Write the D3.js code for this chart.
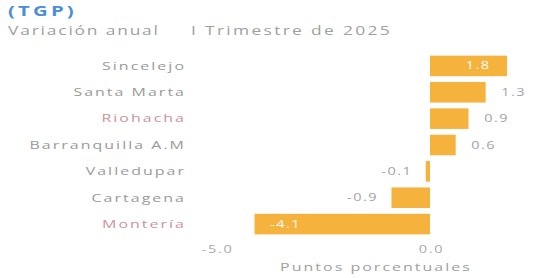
<!DOCTYPE html>
<html>
<head>
<meta charset="utf-8">
<script src="https://cdn.jsdelivr.net/npm/d3@7"></script>
<style>
body { margin: 0; background: #fff; }
text { font-family: "Open Sans", sans-serif; }
</style>
</head>
<body>
<svg width="554" height="278"></svg>
<script>
const svg = d3.select('svg');

// data
var cities = ["Sincelejo", "Santa Marta", "Riohacha", "Barranquilla A.M", "Valledupar", "Cartagena", "Montería"];
var values = [1.8, 1.3, 0.9, 0.6, -0.1, -0.9, -4.1];
var tickValues = [-5, 0];

var barColor = "#f5b23c";
var labelColor = "#9a9a9a";
var sx = 1.45; // text in the picture is stretched sideways

var x = d3.scaleLinear().domain([-5, 0]).range([216, 430]);
var y = d3.scaleBand().domain(cities).range([53, 237]).paddingInner(0.22).paddingOuter(0.1);

function place(px, py) {
    return "translate(" + px + "," + py + ") scale(" + sx + ",1)";
}

// title
svg.append("text")
    .attr("transform", place(8, 16))
    .attr("fill", "#4a8fd6")
    .attr("font-weight", "bold")
    .attr("font-size", 14)
    .attr("letter-spacing", 2.2)
    .text("(TGP)");

svg.append("text")
    .attr("transform", place(8, 35))
    .attr("fill", "#a0a0a0")
    .attr("font-size", 12)
    .attr("letter-spacing", 1.25)
    .text("Variación anual");

svg.append("text")
    .attr("transform", place(191, 35))
    .attr("fill", "#a0a0a0")
    .attr("font-size", 12)
    .attr("letter-spacing", 1.6)
    .text("I Trimestre de 2025");

// category labels
svg.append("g").selectAll("text")
    .data(cities)
    .enter().append("text")
    .attr("transform", d => place(186, y(d) + y.bandwidth() / 2))
    .attr("dy", "0.35em")
    .attr("text-anchor", "end")
    .attr("font-size", 11)
    .attr("letter-spacing", 1.4)
    .attr("fill", d => (d == "Riohacha" || d == "Montería") ? "#c9949a" : labelColor)
    .text(d => d);

// bars
svg.append("g").selectAll("rect")
    .data(values)
    .enter().append("rect")
    .attr("x", d => x(Math.min(0, d)))
    .attr("y", (d, i) => y(cities[i]))
    .attr("width", d => Math.abs(x(d) - x(0)))
    .attr("height", y.bandwidth())
    .attr("fill", barColor);

// value labels
svg.append("g").selectAll("text")
    .data(values)
    .enter().append("text")
    .attr("transform", function(d, i) {
        var px;
        if (i == 0) px = x(d) - 29;
        else if (i == values.length - 1) px = x(d) + 31;
        else px = d >= 0 ? x(d) + 28 : x(d) - 29;
        return place(px, y(cities[i]) + y.bandwidth() / 2);
    })
    .attr("dy", "0.35em")
    .attr("text-anchor", "middle")
    .attr("font-size", 10)
    .attr("letter-spacing", 1)
    .attr("fill", (d, i) => (i == 0 || i == values.length - 1) ? "#fff" : "#a8a0a8")
    .text(d => d.toFixed(1));

// axis
var axis = d3.axisBottom(x).tickValues(tickValues).tickSize(0).tickFormat(d => d.toFixed(1));
var ax = svg.append("g")
    .attr("transform", "translate(1,243)")
    .call(axis);
ax.select(".domain").remove();
ax.selectAll("text")
    .attr("transform", "scale(" + sx + ",1)")
    .attr("fill", "#aaa")
    .attr("font-size", 10)
    .attr("letter-spacing", 1.2)
    .attr("font-family", "Open Sans, sans-serif");

svg.append("text")
    .attr("transform", place(376, 271))
    .attr("text-anchor", "middle")
    .attr("fill", "#a0a0a0")
    .attr("font-size", 11)
    .attr("letter-spacing", 1.4)
    .text("Puntos porcentuales");
</script>
</body>
</html>
